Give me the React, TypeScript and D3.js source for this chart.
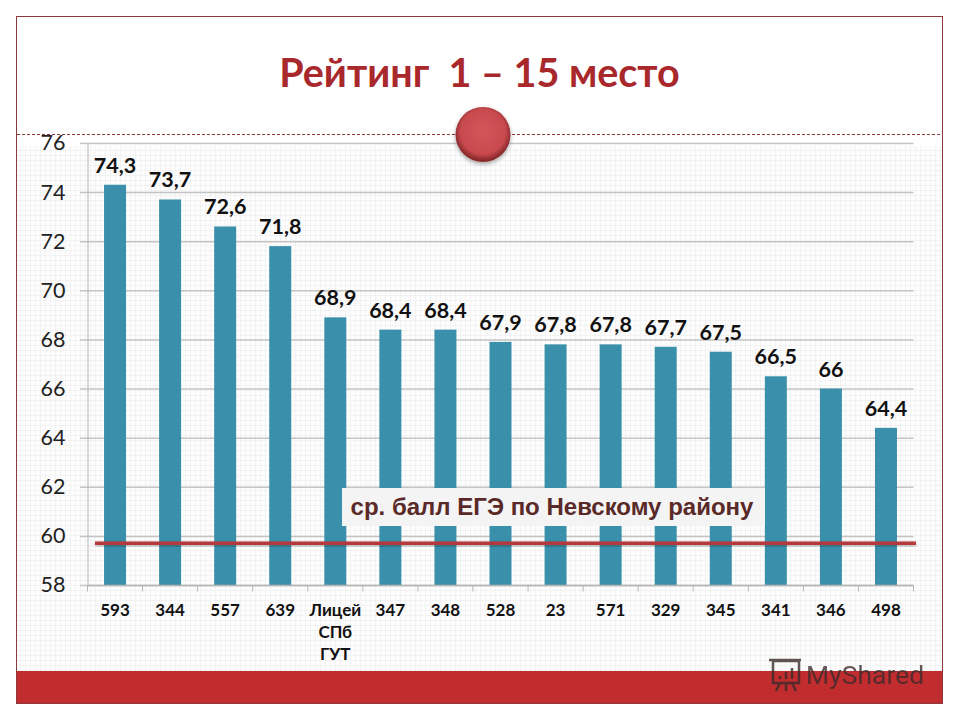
import React, { useEffect, useRef } from "react";
import * as d3 from "d3";

const schools = ["593", "344", "557", "639", "Лицей|СПб|ГУТ", "347", "348", "528", "23", "571", "329", "345", "341", "346", "498"];
const scores = [74.3, 73.7, 72.6, 71.8, 68.9, 68.4, 68.4, 67.9, 67.8, 67.8, 67.7, 67.5, 66.5, 66, 64.4];
const yTicks = [58, 60, 62, 64, 66, 68, 70, 72, 74, 76];
const districtAverage = 59.7;

const width = 960;
const height = 720;
const chartFont = "Lato, 'Open Sans', sans-serif";

const App: React.FC = () => {
  const svgRef = useRef<SVGSVGElement>(null);

  useEffect(() => {
    if (!svgRef.current) return;

    const svg = d3.select(svgRef.current);
    svg.selectAll("*").remove(); // Clear previous render

    const xScale = d3.scaleBand<string>()
      .domain(schools)
      .range([87.5, 913.5]);

    const yScale = d3.scaleLinear()
      .domain([58, 76])
      .range([585, 143]);

    const defs = svg.append("defs");

    // Faint squared paper behind the chart
    const paper = defs.append("pattern")
      .attr("id", "paper")
      .attr("width", 5)
      .attr("height", 5)
      .attr("patternUnits", "userSpaceOnUse");
    paper.append("rect").attr("width", 5).attr("height", 5).attr("fill", "#fdfdfd");
    paper.append("path")
      .attr("d", "M0 0H5M0 0V5")
      .attr("stroke", "#f0f0f0")
      .attr("stroke-width", 1.5);

    const ball = defs.append("radialGradient")
      .attr("id", "ball")
      .attr("cx", "50%")
      .attr("cy", "45%")
      .attr("r", "52%");
    ball.append("stop").attr("offset", "0%").attr("stop-color", "#d4555a");
    ball.append("stop").attr("offset", "78%").attr("stop-color", "#c94a4f");
    ball.append("stop").attr("offset", "100%").attr("stop-color", "#8a2a2c");

    const shadow = defs.append("filter")
      .attr("id", "softShadow")
      .attr("x", "-30%")
      .attr("y", "-30%")
      .attr("width", "160%")
      .attr("height", "160%");
    shadow.append("feDropShadow")
      .attr("dx", 0)
      .attr("dy", 2)
      .attr("stdDeviation", 2)
      .attr("flood-color", "#000")
      .attr("flood-opacity", 0.35);

    // Slide background and frame
    svg.append("rect").attr("width", width).attr("height", height).attr("fill", "#fff");
    svg.append("rect")
      .attr("x", 16.5).attr("y", 146).attr("width", 926).attr("height", 525)
      .attr("fill", "url(#paper)");
    svg.append("rect")
      .attr("x", 16.5).attr("y", 671).attr("width", 926).attr("height", 32)
      .attr("fill", "#c12c2f");
    svg.append("rect")
      .attr("x", 16.5).attr("y", 16.5).attr("width", 926).attr("height", 687)
      .attr("fill", "none")
      .attr("stroke", "#8c3a3c")
      .attr("stroke-width", 1);
    svg.append("line")
      .attr("x1", 17).attr("x2", 942).attr("y1", 134.5).attr("y2", 134.5)
      .attr("stroke", "#8c3a3c")
      .attr("stroke-dasharray", "3 2");

    svg.append("text")
      .attr("x", 479.5)
      .attr("y", 87)
      .attr("text-anchor", "middle")
      .attr("xml:space", "preserve")
      .attr("font-family", chartFont)
      .attr("font-weight", 700)
      .attr("font-size", 39.5)
      .attr("fill", "#a8282c")
      .text("Рейтинг  1 – 15 место");

    // Gridlines
    svg.append("g")
      .selectAll("line")
      .data(yTicks)
      .join("line")
      .attr("x1", 80)
      .attr("x2", 913.5)
      .attr("y1", d => yScale(d) + 0.5)
      .attr("y2", d => yScale(d) + 0.5)
      .attr("stroke", "#c4c4c4")
      .attr("stroke-width", 1.5);

    // Y axis
    const yAxis = svg.append("g")
      .attr("transform", "translate(87.5,0)")
      .call(d3.axisLeft(yScale).tickValues(yTicks).tickSize(0).tickPadding(22).tickFormat(d => String(d)));
    yAxis.select(".domain").attr("stroke", "#b5b5b5");
    yAxis.selectAll("text")
      .attr("font-family", chartFont)
      .attr("font-size", 21.5)
      .attr("fill", "#222");

    // Bars
    const barWidth = 22;
    svg.append("g")
      .selectAll("rect")
      .data(scores)
      .join("rect")
      .attr("x", (_, i) => (xScale(schools[i]) as number) + (xScale.bandwidth() - barWidth) / 2)
      .attr("y", d => yScale(d))
      .attr("width", barWidth)
      .attr("height", d => yScale(58) - yScale(d))
      .attr("fill", "#3a90aa");

    // Value labels
    svg.append("g")
      .selectAll("text")
      .data(scores)
      .join("text")
      .attr("x", (_, i) => (xScale(schools[i]) as number) + xScale.bandwidth() / 2)
      .attr("y", d => yScale(d) - 12)
      .attr("text-anchor", "middle")
      .attr("font-family", chartFont)
      .attr("font-weight", 700)
      .attr("font-size", 21.5)
      .attr("fill", "#111")
      .text(d => String(d).replace(".", ","));

    // X axis with the ticks between the bars
    const xBase = svg.append("g").attr("transform", `translate(0,${yScale(58) + 0.5})`);
    xBase.append("line")
      .attr("x1", 87.5).attr("x2", 913.5)
      .attr("stroke", "#b5b5b5")
      .attr("stroke-width", 1.5);
    xBase.selectAll("line.tick")
      .data([...schools.map(s => xScale(s) as number), 913.5])
      .join("line")
      .attr("class", "tick")
      .attr("x1", d => d).attr("x2", d => d)
      .attr("y1", 0).attr("y2", 6)
      .attr("stroke", "#b5b5b5");

    const xLabels = svg.append("g")
      .selectAll("text")
      .data(schools)
      .join("text")
      .attr("text-anchor", "middle")
      .attr("font-family", chartFont)
      .attr("font-weight", 700)
      .attr("font-size", 17)
      .attr("fill", "#111");
    xLabels.each(function (d) {
      const cx = (xScale(d) as number) + xScale.bandwidth() / 2;
      d.split("|").forEach((part, i) => {
        d3.select(this).append("tspan")
          .attr("x", cx)
          .attr("y", 616 + i * 22)
          .text(part);
      });
    });

    // District average line (a rect, a filter on a flat line draws nothing)
    svg.append("rect")
      .attr("x", 95).attr("width", 821)
      .attr("y", yScale(districtAverage) - 1.75).attr("height", 3.5)
      .attr("fill", "#b5393c")
      .attr("filter", "url(#softShadow)");
    svg.append("rect")
      .attr("x", 342).attr("y", 488).attr("width", 423).attr("height", 38)
      .attr("fill", "#f4f4f4");
    svg.append("text")
      .attr("x", 552)
      .attr("y", 515)
      .attr("text-anchor", "middle")
      .attr("font-family", "'Liberation Sans', Arial, sans-serif")
      .attr("font-weight", 700)
      .attr("font-size", 24)
      .attr("fill", "#5a2a28")
      .text("ср. балл ЕГЭ по Невскому району");

    // Ball on the header divider
    svg.append("circle")
      .attr("cx", 483).attr("cy", 134.5).attr("r", 27.5)
      .attr("fill", "url(#ball)")
      .attr("filter", "url(#softShadow)");

    // Watermark
    const mark = svg.append("g")
      .attr("fill", "none")
      .attr("stroke", "#3a2a2a")
      .attr("stroke-width", 2.5)
      .attr("opacity", 0.8);
    mark.append("rect").attr("x", 773).attr("y", 661).attr("width", 26).attr("height", 22);
    mark.append("line").attr("x1", 769).attr("x2", 801).attr("y1", 660).attr("y2", 660);
    mark.append("path").attr("d", "M780 683L776 691M792 683L796 691M786 683V691M780 679V676M786 679V672M792 679V668");
    svg.append("text")
      .attr("x", 806)
      .attr("y", 684)
      .attr("font-family", "Roboto, sans-serif")
      .attr("font-size", 26.5)
      .attr("fill", "#3a2a2a")
      .attr("opacity", 0.78)
      .text("MyShared");
  }, []);

  return (
    <svg
      ref={svgRef}
      width={width}
      height={height}
      style={{ position: "absolute", left: 0, top: 0, display: "block" }}
    />
  );
};

export default App;
